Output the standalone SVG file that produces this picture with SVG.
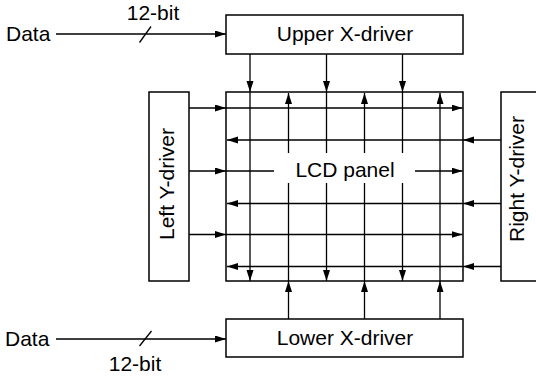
<svg xmlns="http://www.w3.org/2000/svg" width="536" height="379" viewBox="0 0 536 379">
  <defs>
    <marker id="ah" markerUnits="userSpaceOnUse" markerWidth="12" markerHeight="8" refX="11" refY="3.5" orient="auto">
      <path d="M0,0 L11,3.5 L0,7 z" fill="#000"/>
    </marker>
  </defs>
  <style>
    .box { fill: #fff; stroke: #000; stroke-width: 1.5; }
    .ln { stroke: #000; stroke-width: 1.3; fill: none; }
    .arr { stroke: #000; stroke-width: 1.3; fill: none; marker-end: url(#ah); }
    text { font-family: "Liberation Sans", Arial, sans-serif; font-size: 21px; fill: #000; }
  </style>
  <rect width="536" height="379" fill="#fff"/>

  <g id="panel">
    <rect class="box" x="226" y="92" width="237" height="189"/>
  </g>

  <g id="connectors">
    <!-- upper data input -->
    <line class="arr" x1="56" y1="34" x2="226" y2="34"/>
    <line class="ln" x1="139.5" y1="42.5" x2="151" y2="26.5"/>
    <!-- lower data input -->
    <line class="arr" x1="56" y1="339" x2="226" y2="339"/>
    <line class="ln" x1="139.5" y1="346" x2="151.5" y2="331"/>

    <!-- downward column lines from upper X-driver -->
    <line class="arr" x1="250" y1="54" x2="250" y2="92"/>
    <line class="arr" x1="250" y1="92" x2="250" y2="281"/>
    <line class="arr" x1="326.5" y1="54" x2="326.5" y2="92"/>
    <line class="arr" x1="326.5" y1="92" x2="326.5" y2="281"/>
    <line class="arr" x1="402.5" y1="54" x2="402.5" y2="92"/>
    <line class="arr" x1="402.5" y1="92" x2="402.5" y2="281"/>

    <!-- upward column lines from lower X-driver -->
    <line class="arr" x1="288.5" y1="319" x2="288.5" y2="281"/>
    <line class="arr" x1="288.5" y1="281" x2="288.5" y2="93"/>
    <line class="arr" x1="364.5" y1="319" x2="364.5" y2="281"/>
    <line class="arr" x1="364.5" y1="281" x2="364.5" y2="93"/>
    <line class="arr" x1="440" y1="319" x2="440" y2="281"/>
    <line class="arr" x1="440" y1="281" x2="440" y2="93"/>

    <!-- rightward row lines from left Y-driver -->
    <line class="arr" x1="189" y1="108" x2="226" y2="108"/>
    <line class="arr" x1="226" y1="108" x2="462.5" y2="108"/>
    <line class="arr" x1="189" y1="171" x2="226" y2="171"/>
    <line class="arr" x1="226" y1="171" x2="462.5" y2="171"/>
    <line class="arr" x1="189" y1="234.5" x2="226" y2="234.5"/>
    <line class="arr" x1="226" y1="234.5" x2="462.5" y2="234.5"/>

    <!-- leftward row lines from right Y-driver -->
    <line class="arr" x1="501" y1="140" x2="463" y2="140"/>
    <line class="arr" x1="463" y1="140" x2="227" y2="140"/>
    <line class="arr" x1="501" y1="203.5" x2="463" y2="203.5"/>
    <line class="arr" x1="463" y1="203.5" x2="227" y2="203.5"/>
    <line class="arr" x1="501" y1="266.5" x2="463" y2="266.5"/>
    <line class="arr" x1="463" y1="266.5" x2="227" y2="266.5"/>
  </g>

  <g id="panel-label">
    <rect x="274" y="153" width="141" height="30" fill="#fff"/>
    <text x="345" y="177" text-anchor="middle">LCD panel</text>
  </g>

  <g id="upper-x-driver">
    <rect class="box" x="226" y="15" width="237" height="39"/>
    <text x="345" y="41" text-anchor="middle">Upper X-driver</text>
  </g>

  <g id="lower-x-driver">
    <rect class="box" x="226" y="319" width="237" height="38"/>
    <text x="345" y="345" text-anchor="middle">Lower X-driver</text>
  </g>

  <g id="left-y-driver">
    <rect class="box" x="149" y="92" width="40" height="189"/>
    <text transform="translate(174,184) rotate(-90)" text-anchor="middle">Left Y-driver</text>
  </g>

  <g id="right-y-driver">
    <rect class="box" x="501" y="92" width="40" height="189"/>
    <text transform="translate(523.5,179) rotate(-90)" text-anchor="middle">Right Y-driver</text>
  </g>

  <g id="data-labels">
    <text x="6" y="41">Data</text>
    <text x="153" y="19.5" text-anchor="middle">12-bit</text>
    <text x="5" y="346">Data</text>
    <text x="135" y="370.5" text-anchor="middle">12-bit</text>
  </g>
</svg>
